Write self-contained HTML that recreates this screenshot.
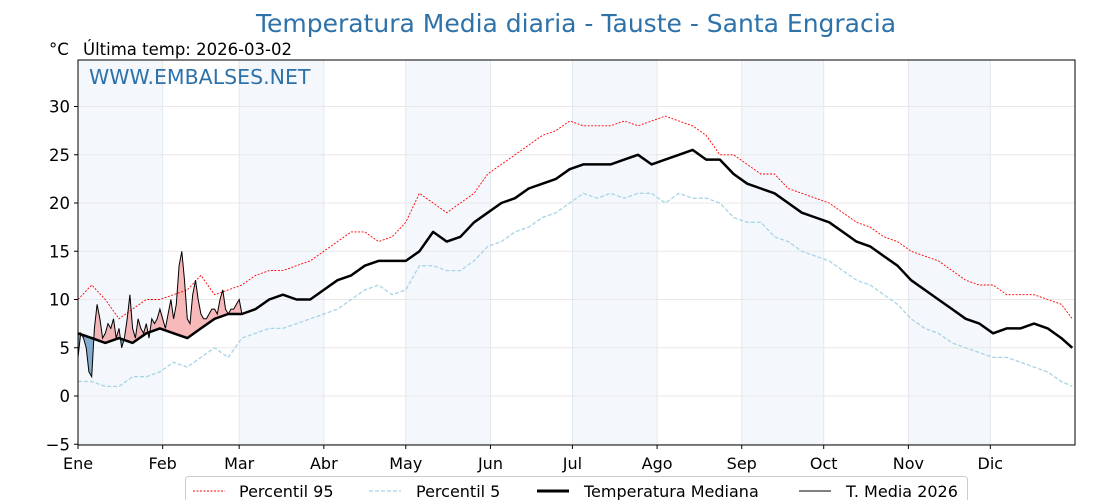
<!DOCTYPE html>
<html><head><meta charset="utf-8"><style>
body{margin:0;background:#fff;}
svg{display:block;font-family:"DejaVu Sans","Liberation Sans",sans-serif;}
</style></head><body>
<svg id="chart" width="1120" height="500" viewBox="0 0 1120 500" xmlns="http://www.w3.org/2000/svg">
<text x="576" y="32" text-anchor="middle" font-size="25" fill="#2e72aa">Temperatura Media diaria - Tauste - Santa Engracia</text>
<text x="49" y="55" font-size="16.5" fill="#000">°C</text>
<text x="83" y="55" font-size="16.5" fill="#000">Última temp: 2026-03-02</text>
<g id="bands"></g>
<g id="grid"></g>
<g id="fills"></g>
<g id="lines"></g>
<rect x="78" y="60" width="997" height="385" fill="none" stroke="#000" stroke-width="1"/>
<text x="89" y="84" font-size="20.5" fill="#2e72aa">WWW.EMBALSES.NET</text>
<g id="axes"></g>
<g>
<rect x="185.5" y="476.5" width="782" height="30" rx="3" fill="#fff" stroke="#ccc"/>
<line x1="193" y1="491" x2="225" y2="491" stroke="red" stroke-width="1" stroke-dasharray="2,1.5"/>
<text x="239" y="497" font-size="16">Percentil 95</text>
<line x1="369" y1="491" x2="401" y2="491" stroke="#a8d4e6" stroke-width="1.2" stroke-dasharray="4,2"/>
<text x="416" y="497" font-size="16">Percentil 5</text>
<line x1="537" y1="491" x2="569" y2="491" stroke="#000" stroke-width="3"/>
<text x="584" y="497" font-size="16">Temperatura Mediana</text>
<line x1="799" y1="491" x2="831" y2="491" stroke="#000" stroke-width="1"/>
<text x="846" y="497" font-size="16">T. Media 2026</text>
</g>
</svg>
<script>
const sampleDays=[0,5,10,15,20,25,30,35,40,45,50,55,60,65,70,75,80,85,90,95,100,105,110,115,120,125,130,135,140,145,150,155,160,165,170,175,180,185,190,195,200,205,210,215,220,225,230,235,240,245,250,255,260,265,270,275,280,285,290,295,300,305,310,315,320,325,330,335,340,345,350,355,360,364];
const medianVals=[6.5,6,5.5,6,5.5,6.5,7,6.5,6,7,8,8.5,8.5,9,10,10.5,10,10,11,12,12.5,13.5,14,14,14,15,17,16,16.5,18,19,20,20.5,21.5,22,22.5,23.5,24,24,24,24.5,25,24,24.5,25,25.5,24.5,24.5,23,22,21.5,21,20,19,18.5,18,17,16,15.5,14.5,13.5,12,11,10,9,8,7.5,6.5,7,7,7.5,7,6,5];
const p95Vals=[10,11.5,10,8,9,10,10,10.5,11,12.5,10.5,11,11.5,12.5,13,13,13.5,14,15,16,17,17,16,16.5,18,21,20,19,20,21,23,24,25,26,27,27.5,28.5,28,28,28,28.5,28,28.5,29,28.5,28,27,25,25,24,23,23,21.5,21,20.5,20,19,18,17.5,16.5,16,15,14.5,14,13,12,11.5,11.5,10.5,10.5,10.5,10,9.5,8];
const p5Vals=[1.5,1.5,1,1,2,2,2.5,3.5,3,4,5,4,6,6.5,7,7,7.5,8,8.5,9,10,11,11.5,10.5,11,13.5,13.5,13,13,14,15.5,16,17,17.5,18.5,19,20,21,20.5,21,20.5,21,21,20,21,20.5,20.5,20,18.5,18,18,16.5,16,15,14.5,14,13,12,11.5,10.5,9.5,8,7,6.5,5.5,5,4.5,4,4,3.5,3,2.5,1.5,1];
const temp2026=[4,6.5,6,5,2.5,2,7,9.5,8,6,6.5,7.5,7,8,6,7,5,6,8,10.5,7,6,8,7,6.5,7.5,6,8,7.5,8,9,8,7,8.5,10,8,9.5,13.5,15,12,8,7.5,10.5,12,10,8.5,8,8,8.5,9,9,8.5,10,11,9,8.5,9,9,9.5,10,8.5];
const monthLabels=["Ene","Feb","Mar","Abr","May","Jun","Jul","Ago","Sep","Oct","Nov","Dic"];
const monthStarts=[0,31,59,90,120,151,181,212,243,273,304,334];
const yTicks=[-5,0,5,10,15,20,25,30];

const NS="http://www.w3.org/2000/svg";
const X0=78,X1=1075,Y0=60,Y1=445;
const xs=d=>X0+d*(X1-X0)/365;
const ys=v=>396-v*9.65;
function mk(tag,attrs,parent){const e=document.createElementNS(NS,tag);for(const k in attrs)e.setAttribute(k,attrs[k]);document.getElementById(parent).appendChild(e);return e;}

monthStarts.forEach((d,i)=>{
  const end=i<11?monthStarts[i+1]:365;
  if(i%2===0){const r=mk('rect',{x:xs(d),y:Y0,width:xs(end)-xs(d),height:Y1-Y0,fill:'#f4f8fc'},'bands');
  
  }
  const g=mk('line',{x1:xs(d),x2:xs(d),y1:Y0,y2:Y1,stroke:'#e3e8ee','stroke-width':1},'grid');
  
  
  const t=mk('text',{x:xs(d),y:469,'font-size':16,'text-anchor':'middle'},'axes');t.textContent=monthLabels[i];
  
  
  const tk=mk('line',{x1:xs(d),x2:xs(d),y1:Y1,y2:Y1+4,stroke:'#000'},'axes');
  
  
});
yTicks.forEach(v=>{
  const g=mk('line',{x1:X0,x2:X1,y1:ys(v),y2:ys(v),stroke:'#e8e8e8','stroke-width':1},'grid');
  
  
  const tk=mk('line',{x1:X0-4,x2:X0,y1:ys(v),y2:ys(v),stroke:'#000'},'axes');
  
  
  const t=mk('text',{x:X0-8,y:ys(v)+6,'font-size':16.5,'text-anchor':'end'},'axes');t.textContent=(v<0?'\u2212'+(-v):v);
  
  
});
function pts(days,vals){return days.map((d,i)=>xs(d).toFixed(1)+','+ys(vals[i]).toFixed(1)).join(' ');}
function medAt(d){for(let i=0;i<sampleDays.length-1;i++){if(d<=sampleDays[i+1]){const t=(d-sampleDays[i])/(sampleDays[i+1]-sampleDays[i]);return medianVals[i]+t*(medianVals[i+1]-medianVals[i]);}}return medianVals[medianVals.length-1];}
const n=temp2026.length;const tDays=temp2026.map((_,i)=>i);
const medDaily=tDays.map(medAt);
const defs=mk('defs',{},'fills');
let medPts=tDays.map(d=>xs(d).toFixed(1)+','+ys(medDaily[d]).toFixed(1));
const cA=document.createElementNS(NS,'clipPath');cA.setAttribute('id','above');defs.appendChild(cA);
const pa=document.createElementNS(NS,'polygon');pa.setAttribute('points',xs(0)+','+Y0+' '+medPts.join(' ')+' '+xs(n-1)+','+Y0);cA.appendChild(pa);
const cB=document.createElementNS(NS,'clipPath');cB.setAttribute('id','below');defs.appendChild(cB);
const pb=document.createElementNS(NS,'polygon');pb.setAttribute('points',xs(0)+','+Y1+' '+medPts.join(' ')+' '+xs(n-1)+','+Y1);cB.appendChild(pb);
const area=pts(tDays,temp2026)+' '+medPts.slice().reverse().join(' ');
const fr=mk('polygon',{points:area,fill:'#f08080','fill-opacity':0.55,'clip-path':'url(#above)'},'fills');


const fb=mk('polygon',{points:area,fill:'#4682b4','fill-opacity':0.65,'clip-path':'url(#below)'},'fills');


const l95=mk('polyline',{points:pts(sampleDays,p95Vals),fill:'none',stroke:'red','stroke-width':0.9,'stroke-dasharray':'2,1.5'},'lines');


const l5=mk('polyline',{points:pts(sampleDays,p5Vals),fill:'none',stroke:'#a8d4e6','stroke-width':1.3,'stroke-dasharray':'4,2'},'lines');


const lm=mk('polyline',{points:pts(sampleDays,medianVals),fill:'none',stroke:'#000','stroke-width':2.5,'stroke-linejoin':'round'},'lines');


const lt=mk('polyline',{points:pts(tDays,temp2026),fill:'none',stroke:'#000','stroke-width':1},'lines');


</script>
</body></html>
